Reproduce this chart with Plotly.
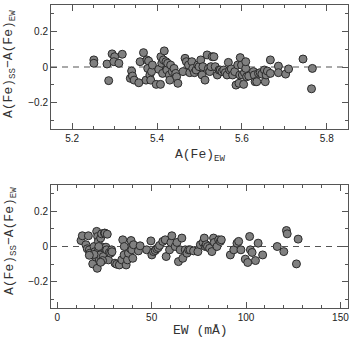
import plotly.graph_objects as go

# Top panel: A(Fe)_EW vs A(Fe)_SS - A(Fe)_EW
afe_ew = [5.251, 5.251, 5.282, 5.294, 5.286, 5.300, 5.298, 5.310, 5.318, 5.337,
          5.340, 5.342, 5.346, 5.357, 5.360, 5.368, 5.374, 5.376, 5.378, 5.380,
          5.383, 5.385, 5.387, 5.389, 5.398, 5.404, 5.408, 5.409, 5.411, 5.413,
          5.415, 5.417, 5.421, 5.423, 5.425, 5.429, 5.430, 5.432, 5.436, 5.440,
          5.444, 5.446, 5.449, 5.461, 5.466, 5.469, 5.474, 5.477, 5.482, 5.484,
          5.488, 5.492, 5.496, 5.499, 5.503, 5.506, 5.508, 5.513, 5.518, 5.521,
          5.524, 5.527, 5.530, 5.534, 5.537, 5.542, 5.546, 5.549, 5.553, 5.557,
          5.561, 5.565, 5.568, 5.571, 5.575, 5.578, 5.583, 5.586, 5.590, 5.593,
          5.595, 5.596, 5.599, 5.601, 5.604, 5.606, 5.609, 5.609, 5.611, 5.616,
          5.627, 5.629, 5.631, 5.635, 5.639, 5.643, 5.647, 5.653, 5.655, 5.657,
          5.660, 5.667, 5.667, 5.686, 5.686, 5.703, 5.710, 5.744, 5.764, 5.766]
diff_top = [0.040, 0.021, 0.017, 0.074, -0.077, 0.058, 0.030, 0.021, 0.072, -0.064,
            -0.023, -0.051, -0.074, -0.089, 0.030, 0.081, -0.074, 0.040, -0.008, 0.034,
            -0.045, -0.074, -0.026, 0.011, -0.098, -0.013, -0.098, 0.058, 0.021, -0.036,
            0.040, 0.091, 0.030, -0.017, 0.021, -0.045, -0.074, 0.011, -0.026, -0.008,
            -0.036, -0.055, -0.092, -0.026, 0.049, 0.030, 0.011, -0.032, 0.030, -0.008,
            -0.032, -0.017, 0.011, 0.002, 0.040, -0.045, 0.002, -0.074, 0.068, -0.008,
            -0.026, 0.002, 0.058, 0.058, 0.002, -0.045, -0.017, -0.017, -0.026, -0.017,
            -0.032, -0.045, 0.026, -0.017, -0.011, -0.045, -0.026, -0.102, 0.011, -0.092,
            -0.045, 0.053, 0.011, -0.045, -0.098, -0.032, -0.008, 0.030, -0.055, -0.051,
            -0.026, -0.045, -0.083, -0.083, -0.036, -0.032, -0.040, -0.017, -0.083, -0.045,
            -0.023, 0.040, -0.036, 0.005, -0.032, -0.040, -0.011, 0.045, -0.123, -0.008]

# Bottom panel: EW (mA) vs A(Fe)_SS - A(Fe)_EW
ew = [12.6, 13.3, 15.2, 15.9, 16.5, 17.0, 17.3, 18.2, 18.8, 19.5,
      20.0, 20.5, 20.9, 21.2, 21.4, 21.8, 21.9, 22.3, 22.7, 23.0,
      23.5, 24.1, 24.4, 25.0, 25.3, 25.8, 26.2, 27.1, 27.6, 28.3,
      28.8, 30.6, 31.5, 32.9, 34.2, 34.7, 35.4, 36.5, 37.2, 37.7,
      38.6, 39.1, 39.5, 40.0, 40.4, 43.0, 43.9, 47.4, 49.6, 50.1,
      51.0, 51.9, 52.7, 53.5, 54.2, 55.9, 57.2, 57.7, 59.5, 60.2,
      60.7, 62.5, 63.4, 64.2, 65.1, 66.0, 66.5, 67.8, 68.7, 69.6,
      70.4, 72.2, 74.5, 75.8, 77.2, 77.9, 78.4, 78.9, 79.6, 80.7,
      81.9, 82.8, 83.2, 84.6, 85.5, 86.4, 86.9, 91.7, 93.5, 95.2,
      96.1, 97.3, 99.6, 100.9, 101.9, 102.3, 103.2, 105.0, 106.4, 108.8,
      116.5, 120.0, 121.4, 121.8, 126.7, 127.6,
      22.0, 19.5, 24.0, 26.5, 17.0, 29.0, 23.0, 35.5]
diff_bot = [0.034, 0.061, 0.010, -0.013, 0.061, -0.019, -0.038, -0.048, -0.099, 0.000,
            -0.029, -0.061, 0.086, -0.124, 0.057, 0.029, -0.019, -0.076, -0.048, 0.048,
            0.072, -0.004, -0.057, 0.076, 0.076, -0.004, -0.019, -0.076, -0.034, -0.038,
            -0.019, -0.095, -0.101, -0.105, -0.076, 0.038, -0.048, -0.105, -0.076, -0.038,
            -0.010, 0.034, -0.019, -0.067, 0.010, -0.025, 0.004, -0.019, 0.032, -0.048,
            -0.029, -0.023, -0.013, -0.006, 0.006, 0.029, 0.038, -0.057, -0.019, 0.023,
            0.061, 0.000, 0.023, -0.086, -0.019, 0.048, -0.067, -0.019, -0.038, -0.019,
            -0.019, -0.025, -0.029, 0.010, 0.023, 0.048, 0.000, 0.010, 0.000, -0.010,
            -0.029, 0.048, 0.023, 0.000, 0.038, 0.029, 0.038, -0.048, -0.019, 0.019,
            0.029, -0.019, -0.072, -0.091, 0.057, -0.019, -0.034, -0.080, 0.019, -0.048,
            0.000, -0.029, 0.091, 0.072, -0.099, 0.042,
            0.000, -0.045, -0.080, 0.070, -0.050, -0.030, -0.090, 0.000]

y_ticks = [-0.2, 0, 0.2]
y_tick_labels = ["\u22120.2", "0", "0.2"]
top_x_ticks = [5.2, 5.4, 5.6, 5.8]
bot_x_ticks = [0, 50, 100, 150]

W, H = 352, 338
marker = dict(size=8, color="#808080", line=dict(width=1, color="#2a2a2a"))

fig = go.Figure()
fig.add_trace(go.Scatter(x=afe_ew, y=diff_top, mode="markers", marker=marker,
                         xaxis="x", yaxis="y", showlegend=False))
fig.add_trace(go.Scatter(x=ew, y=diff_bot, mode="markers", marker=marker,
                         xaxis="x2", yaxis="y2", showlegend=False))

tickfont = dict(family="Liberation Sans, Arial", size=10, color="#222222")
common = dict(showgrid=False, zeroline=False, showline=True, mirror="allticks",
              linecolor="#555555", linewidth=1, ticks="inside", ticklen=6,
              tickcolor="#555555", tickfont=tickfont)

x_dom = [51 / W, 348 / W]
fig.update_layout(
    width=W, height=H,
    margin=dict(l=0, r=0, t=0, b=0),
    paper_bgcolor="white", plot_bgcolor="white",
    xaxis=dict(domain=x_dom, range=[5.15, 5.85], anchor="y",
               tickvals=top_x_ticks, ticktext=[f"{v:.1f}" for v in top_x_ticks],
               minor=dict(dtick=0.05, ticks="inside", ticklen=3, tickcolor="#555555"),
               **common),
    yaxis=dict(domain=[1 - 129 / H, 1 - 5 / H], range=[-0.35, 0.35], anchor="x",
               tickvals=y_ticks, ticktext=y_tick_labels,
               minor=dict(dtick=0.1, ticks="inside", ticklen=3, tickcolor="#555555"),
               **common),
    xaxis2=dict(domain=x_dom, range=[-3.3, 154], anchor="y2",
                tickvals=bot_x_ticks, ticktext=[str(v) for v in bot_x_ticks],
                minor=dict(dtick=10, ticks="inside", ticklen=3, tickcolor="#555555"),
                **common),
    yaxis2=dict(domain=[1 - 308 / H, 1 - 185 / H], range=[-0.35, 0.35], anchor="x2",
                tickvals=y_ticks, ticktext=y_tick_labels,
                minor=dict(dtick=0.1, ticks="inside", ticklen=3, tickcolor="#555555"),
                **common),
)

dash = dict(color="#555555", width=1.2, dash="6px,5px")
fig.add_shape(type="line", xref="x domain", yref="y", x0=0, x1=1, y0=0, y1=0,
              line=dash, layer="below")
fig.add_shape(type="line", xref="x2 domain", yref="y2", x0=0, x1=1, y0=0, y1=0,
              line=dash, layer="below")

titlefont = dict(family="Liberation Mono, Courier New", size=13, color="#333333")
ytitle = "A(Fe)<sub>SS</sub>\u2212A(Fe)<sub>EW</sub>"
fig.add_annotation(text="A(Fe)<sub>EW</sub>", xref="paper", yref="paper",
                   x=200 / W, y=1 - 155 / H, showarrow=False, font=titlefont,
                   xanchor="center", yanchor="middle")
fig.add_annotation(text="EW (mÅ)", xref="paper", yref="paper",
                   x=200 / W, y=1 - 330 / H, showarrow=False, font=titlefont,
                   xanchor="center", yanchor="middle")
fig.add_annotation(text=ytitle, xref="paper", yref="paper", textangle=-90,
                   x=10 / W, y=1 - 64 / H, showarrow=False, font=titlefont,
                   xanchor="center", yanchor="middle")
fig.add_annotation(text=ytitle, xref="paper", yref="paper", textangle=-90,
                   x=10 / W, y=1 - 241 / H, showarrow=False, font=titlefont,
                   xanchor="center", yanchor="middle")

fig.write_html("out.html")
